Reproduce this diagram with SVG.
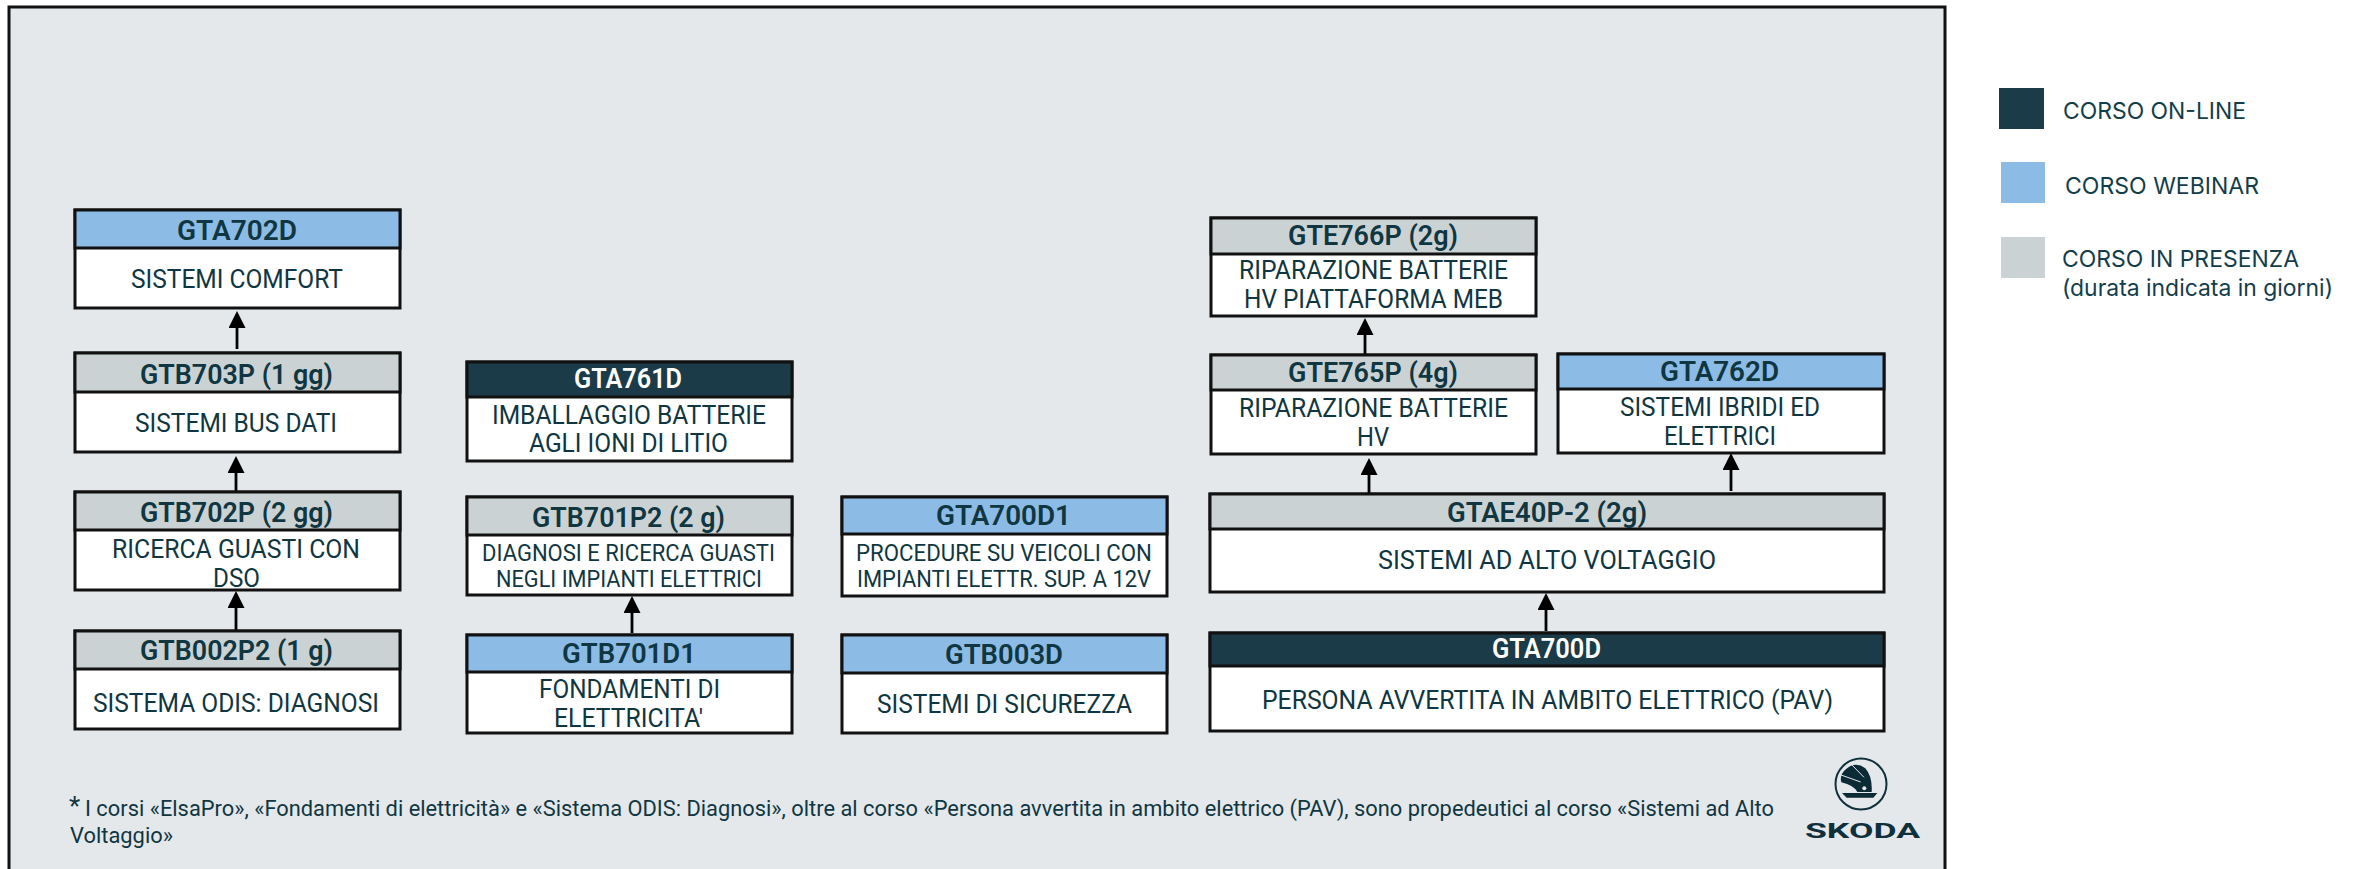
<svg xmlns="http://www.w3.org/2000/svg" width="2361" height="869" viewBox="0 0 2361 869">
<style>
text{font-family:Roboto,"Liberation Sans",sans-serif;fill:#0f3641;transform:translateY(1px)}
.h{font-size:28px;font-weight:600}
.w{fill:#fff}
.b{font-size:26px}
.s{font-size:23px}
.f{font-size:22px}
.l{font-family:Inter,"Noto Sans",sans-serif;font-size:23px;fill:#133d4a}
.box{fill:#fff;stroke:#111;stroke-width:3}
.on{fill:#1a3b47}.web{fill:#8cbce6}.pre{fill:#cbd2d4}
.hd{stroke:#111;stroke-width:3}
.c line{stroke:#000;stroke-width:2.8;marker-end:url(#a)}
</style>
<defs><marker id="a" markerUnits="userSpaceOnUse" markerWidth="18" markerHeight="17" viewBox="0 0 17 17" refX="8" refY="8.5" orient="auto"><path d="M0 0L17 8.5L0 17z" fill="#000"/></marker></defs>
<rect id="panel" x="9" y="7" width="1936" height="870" fill="#e4e8eb" stroke="#111" stroke-width="3"/>

<g id="connectors" class="c">
<line x1="237" y1="349" x2="237" y2="320"/>
<line x1="236" y1="492" x2="236" y2="465"/>
<line x1="236" y1="630" x2="236" y2="600"/>
<line x1="632" y1="633" x2="632" y2="605"/>
<line x1="1546" y1="631" x2="1546" y2="602"/>
<line x1="1369" y1="495" x2="1369" y2="467"/>
<line x1="1731" y1="491" x2="1731" y2="462"/>
<line x1="1365" y1="355" x2="1365" y2="327"/>
</g>

<g id="GTA702D"><rect class="box" x="75" y="210" width="325" height="98"/><rect class="web hd" x="75" y="210" width="325" height="38"/>
<text class="h" x="177" y="239" textLength="120" lengthAdjust="spacingAndGlyphs">GTA702D</text>
<text class="b" x="131" y="287" textLength="212" lengthAdjust="spacingAndGlyphs">SISTEMI COMFORT</text></g>

<g id="GTB703P"><rect class="box" x="75" y="353" width="325" height="99"/><rect class="pre hd" x="75" y="353" width="325" height="39"/>
<text class="h" x="140" y="383" textLength="193" lengthAdjust="spacingAndGlyphs">GTB703P (1 gg)</text>
<text class="b" x="135" y="431" textLength="202" lengthAdjust="spacingAndGlyphs">SISTEMI BUS DATI</text></g>

<g id="GTB702P"><rect class="box" x="75" y="492" width="325" height="98"/><rect class="pre hd" x="75" y="492" width="325" height="38"/>
<text class="h" x="140" y="521" textLength="193" lengthAdjust="spacingAndGlyphs">GTB702P (2 gg)</text>
<text class="b" x="112" y="557" textLength="248" lengthAdjust="spacingAndGlyphs">RICERCA GUASTI CON</text>
<text class="b" x="213" y="586" textLength="47" lengthAdjust="spacingAndGlyphs">DSO</text></g>

<g id="GTB002P2"><rect class="box" x="75" y="631" width="325" height="98"/><rect class="pre hd" x="75" y="631" width="325" height="38"/>
<text class="h" x="140" y="659" textLength="193" lengthAdjust="spacingAndGlyphs">GTB002P2 (1 g)</text>
<text class="b" x="93" y="711" textLength="286" lengthAdjust="spacingAndGlyphs">SISTEMA ODIS: DIAGNOSI</text></g>

<g id="GTA761D"><rect class="box" x="467" y="362" width="325" height="99"/><rect class="on hd" x="467" y="362" width="325" height="35"/>
<text class="h w" x="574" y="387" textLength="108" lengthAdjust="spacingAndGlyphs">GTA761D</text>
<text class="b" x="492" y="423" textLength="274" lengthAdjust="spacingAndGlyphs">IMBALLAGGIO BATTERIE</text>
<text class="b" x="529" y="451" textLength="199" lengthAdjust="spacingAndGlyphs">AGLI IONI DI LITIO</text></g>

<g id="GTB701P2"><rect class="box" x="467" y="497" width="325" height="98"/><rect class="pre hd" x="467" y="497" width="325" height="38"/>
<text class="h" x="532" y="526" textLength="193" lengthAdjust="spacingAndGlyphs">GTB701P2 (2 g)</text>
<text class="s" x="482" y="560" textLength="293" lengthAdjust="spacingAndGlyphs">DIAGNOSI E RICERCA GUASTI</text>
<text class="s" x="496" y="586" textLength="266" lengthAdjust="spacingAndGlyphs">NEGLI IMPIANTI ELETTRICI</text></g>

<g id="GTB701D1"><rect class="box" x="467" y="635" width="325" height="98"/><rect class="web hd" x="467" y="635" width="325" height="37"/>
<text class="h" x="562" y="662" textLength="134" lengthAdjust="spacingAndGlyphs">GTB701D1</text>
<text class="b" x="539" y="697" textLength="181" lengthAdjust="spacingAndGlyphs">FONDAMENTI DI</text>
<text class="b" x="554" y="726" textLength="149" lengthAdjust="spacingAndGlyphs">ELETTRICITA'</text></g>

<g id="GTA700D1"><rect class="box" x="842" y="497" width="325" height="99"/><rect class="web hd" x="842" y="497" width="325" height="37"/>
<text class="h" x="936" y="524" textLength="135" lengthAdjust="spacingAndGlyphs">GTA700D1</text>
<text class="s" x="856" y="560" textLength="296" lengthAdjust="spacingAndGlyphs">PROCEDURE SU VEICOLI CON</text>
<text class="s" x="857" y="586" textLength="294" lengthAdjust="spacingAndGlyphs">IMPIANTI ELETTR. SUP. A 12V</text></g>

<g id="GTB003D"><rect class="box" x="842" y="635" width="325" height="98"/><rect class="web hd" x="842" y="635" width="325" height="38"/>
<text class="h" x="945" y="663" textLength="118" lengthAdjust="spacingAndGlyphs">GTB003D</text>
<text class="b" x="877" y="712" textLength="255" lengthAdjust="spacingAndGlyphs">SISTEMI DI SICUREZZA</text></g>

<g id="GTAE40P-2"><rect class="box" x="1210" y="494" width="674" height="98"/><rect class="pre hd" x="1210" y="494" width="674" height="35"/>
<text class="h" x="1447" y="521" textLength="200" lengthAdjust="spacingAndGlyphs">GTAE40P-2 (2g)</text>
<text class="b" x="1378" y="568" textLength="338" lengthAdjust="spacingAndGlyphs">SISTEMI AD ALTO VOLTAGGIO</text></g>

<g id="GTA700D"><rect class="box" x="1210" y="633" width="674" height="98"/><rect class="on hd" x="1210" y="633" width="674" height="33"/>
<text class="h w" x="1492" y="657" textLength="109" lengthAdjust="spacingAndGlyphs">GTA700D</text>
<text class="b" x="1262" y="708" textLength="571" lengthAdjust="spacingAndGlyphs">PERSONA AVVERTITA IN AMBITO ELETTRICO (PAV)</text></g>

<g id="GTE766P"><rect class="box" x="1211" y="218" width="325" height="98"/><rect class="pre hd" x="1211" y="218" width="325" height="36"/>
<text class="h" x="1288" y="244" textLength="170" lengthAdjust="spacingAndGlyphs">GTE766P (2g)</text>
<text class="b" x="1239" y="278" textLength="269" lengthAdjust="spacingAndGlyphs">RIPARAZIONE BATTERIE</text>
<text class="b" x="1244" y="307" textLength="259" lengthAdjust="spacingAndGlyphs">HV PIATTAFORMA MEB</text></g>

<g id="GTE765P"><rect class="box" x="1211" y="355" width="325" height="99"/><rect class="pre hd" x="1211" y="355" width="325" height="35"/>
<text class="h" x="1288" y="381" textLength="170" lengthAdjust="spacingAndGlyphs">GTE765P (4g)</text>
<text class="b" x="1239" y="416" textLength="269" lengthAdjust="spacingAndGlyphs">RIPARAZIONE BATTERIE</text>
<text class="b" x="1357" y="445" textLength="32" lengthAdjust="spacingAndGlyphs">HV</text></g>

<g id="GTA762D"><rect class="box" x="1558" y="354" width="326" height="99"/><rect class="web hd" x="1558" y="354" width="326" height="35"/>
<text class="h" x="1660" y="380" textLength="119" lengthAdjust="spacingAndGlyphs">GTA762D</text>
<text class="b" x="1620" y="415" textLength="200" lengthAdjust="spacingAndGlyphs">SISTEMI IBRIDI ED</text>
<text class="b" x="1664" y="444" textLength="112" lengthAdjust="spacingAndGlyphs">ELETTRICI</text></g>

<g id="footnote">
<text x="69" y="814" font-size="26">*</text>
<text class="f" x="85" y="815" textLength="1689" lengthAdjust="spacingAndGlyphs">I corsi «ElsaPro», «Fondamenti di elettricità» e «Sistema ODIS: Diagnosi», oltre al corso «Persona avvertita in ambito elettrico (PAV), sono propedeutici al corso «Sistemi ad Alto</text>
<text class="f" x="70" y="842" textLength="103" lengthAdjust="spacingAndGlyphs">Voltaggio»</text>
</g>

<g id="logo">
<circle cx="1861" cy="784" r="25.5" fill="none" stroke="#0f2f3b" stroke-width="2"/>
<g transform="translate(1760 720) scale(.3333)">
<path d="M255 150Q285 122 316 145Q338 170 335 216L292 216Q282 196 244 187Q238 166 255 150Z" fill="#0a2a36"/>
<path d="M276 135L312 172M243 165L302 186" stroke="#e4e8eb" stroke-width="3" fill="none"/>
<circle cx="313" cy="205" r="6" fill="#e4e8eb"/>
<path d="M246 219L352 219L340 233L260 233Z" fill="#0a2a36"/>
</g>
<text x="1805" y="837" font-size="21" font-weight="700" textLength="115" lengthAdjust="spacingAndGlyphs" style="fill:#0f2f3b">SKODA</text>
</g>

<g id="legend">
<rect class="on" x="1999" y="88" width="45" height="41"/>
<text class="l" x="2063" y="118" textLength="183" lengthAdjust="spacingAndGlyphs">CORSO ON-LINE</text>
<rect class="web" x="2001" y="162" width="44" height="41"/>
<text class="l" x="2065" y="193" textLength="194" lengthAdjust="spacingAndGlyphs">CORSO WEBINAR</text>
<rect class="pre" x="2001" y="237" width="44" height="41"/>
<text class="l" x="2062" y="266" textLength="237" lengthAdjust="spacingAndGlyphs">CORSO IN PRESENZA</text>
<text class="l" x="2062" y="295" textLength="271" lengthAdjust="spacingAndGlyphs">(durata indicata in giorni)</text>
</g>
</svg>
